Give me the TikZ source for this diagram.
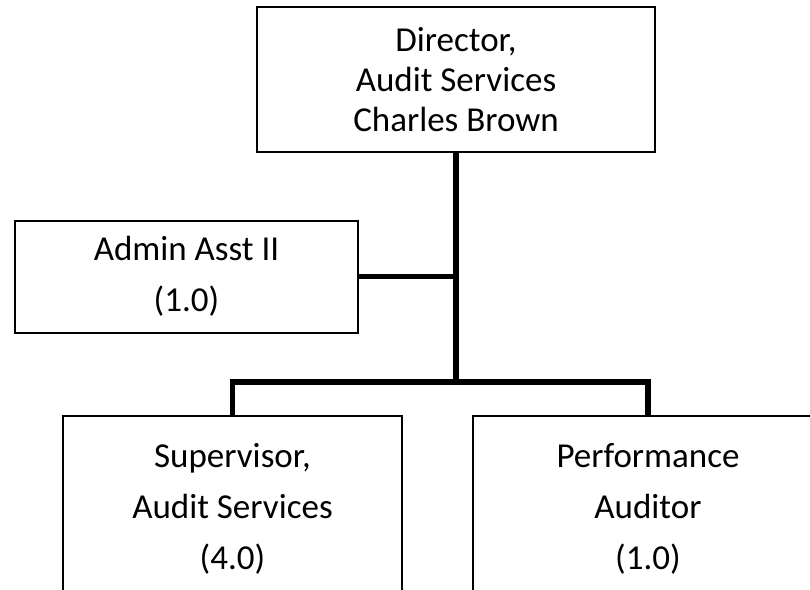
\documentclass[tikz,border=0pt]{standalone}
\usepackage{fontspec}
\setmainfont{Carlito}

\begin{document}
\begin{tikzpicture}[x=0.5pt,y=-0.5pt,
                    post/.style={draw,rectangle,line width=1pt,align=center,inner sep=0pt},
                    link/.style={line width=2.6pt}]
                        \useasboundingbox (0,0) rectangle (810,590);
                        % Director
                        \node[post,minimum width=199pt,minimum height=72.5pt,font=\fontsize{17.5}{20}\selectfont] (dir) at (456,79.5) {Director,\\Audit Services\\Charles Brown};
                        % Staff
                        \node[post,minimum width=171.5pt,minimum height=56pt,font=\fontsize{17.5}{25.5}\selectfont] (asst) at (186.5,276.5) {Admin Asst II\\(1.0)};
                        \node[post,minimum width=169.5pt,minimum height=92.5pt,font=\fontsize{17.5}{25.5}\selectfont] (sup) at (232.5,508.5) {Supervisor,\\Audit Services\\(4.0)};
                        \node[post,minimum width=175pt,minimum height=92.5pt,font=\fontsize{17.5}{25.5}\selectfont] (perf) at (648,508.5) {Performance\\Auditor\\(1.0)};
                        \coordinate (split) at (456,382);
                        % links
                        \draw[link] (dir.south) -- (split);
                        \draw[link] (asst.east) -- (asst.east -| dir.south);
                        \draw[link] (sup.north) |- (split) -| (perf.north);
                    \end{tikzpicture}
\end{document}
